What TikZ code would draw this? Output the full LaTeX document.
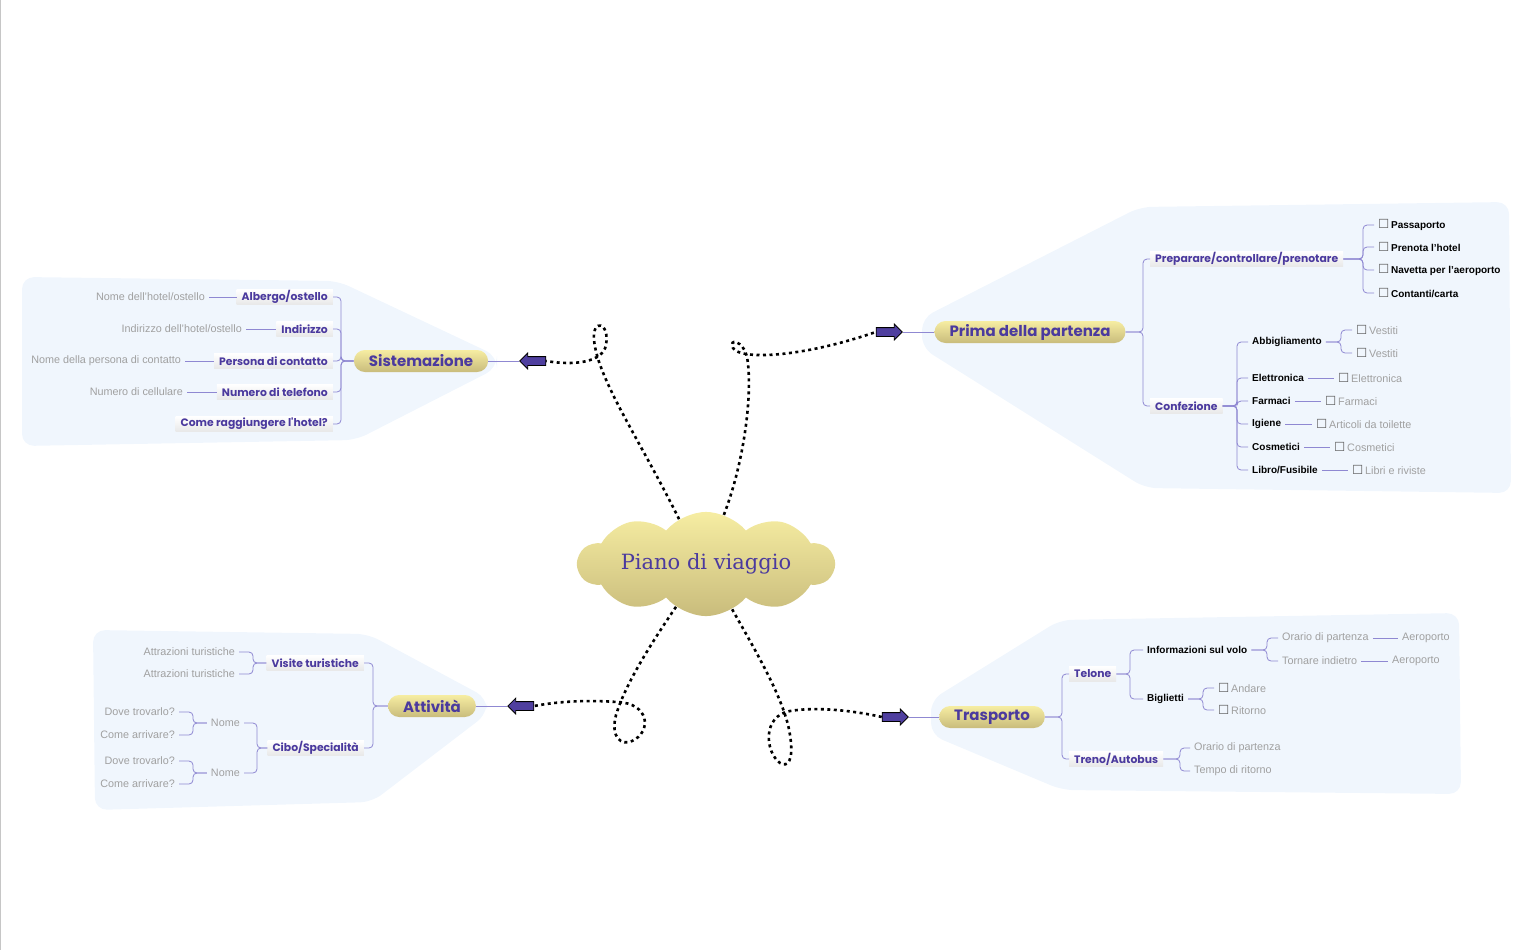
\documentclass[tikz,border=0pt]{standalone}
\usepackage{fontspec}
\setmainfont{Liberation Sans}
\newfontfamily\headfont{Poppins}
\newfontfamily\titlefont{DejaVu Serif}
\newfontfamily\symfont{DejaVu Sans}
\usetikzlibrary{shapes.symbols,shapes.arrows}

\definecolor{panelblue}{HTML}{F0F6FD}
\definecolor{headpurple}{HTML}{4B3A9E}
\definecolor{linkpurple}{HTML}{8F88D2}
\definecolor{leafgray}{HTML}{A0A0A0}
\definecolor{pilltop}{HTML}{F6EDA2}
\definecolor{pillbot}{HTML}{C9BC7C}
\definecolor{arrowpurple}{HTML}{4F3F9F}

\newcommand\chk{{\symfont\fontsize{12.5}{12}\selectfont\color{gray!75!black}\symbol{"2610}}\,}

\begin{document}
\begin{tikzpicture}[x=1pt,y=-1pt,
    mainbox/.style={rounded corners=11pt, top color=pilltop, bottom color=pillbot, minimum height=22pt,
        inner xsep=15pt, inner ysep=0pt, text=headpurple, font=\headfont\bfseries\fontsize{15}{15}\selectfont},
    subbox/.style={top color=white, bottom color=gray!18, minimum height=15pt, inner xsep=5pt, inner ysep=1pt,
        text=headpurple, font=\headfont\bfseries\fontsize{10.8}{11}\selectfont},
    item/.style={inner xsep=4pt, inner ysep=2pt, font=\bfseries\fontsize{10}{10}\selectfont},
    leaf/.style={inner xsep=4pt, inner ysep=2pt, text=leafgray, font=\fontsize{10.8}{11}\selectfont},
    conn/.style={draw=linkpurple, line width=0.8pt, rounded corners=4pt},
    dots/.style={line width=2.6pt, dash pattern=on 3pt off 3.5pt},
    blockarr/.style={single arrow, draw=black, fill=arrowpurple, minimum height=26pt,
        single arrow head extend=3.5pt, inner xsep=0pt, inner ysep=4pt, line width=0.8pt},
    panel/.style={fill=panelblue, rounded corners=12pt}]
    \useasboundingbox (0,0) rectangle (1536,950);
    \draw[gray!45] (0.5,0) -- (0.5,950);

    % panels
    \fill[panel] (22,277) -- (338,281) -- (497,356) -- (497,368) -- (356,440) -- (22,446) -- cycle;
    \fill[panel] (1140,207) -- (1509,202) -- (1511,493) -- (1145,488) -- (922,348) -- (922,318) -- cycle;
    \fill[panel] (93,630) -- (368,634) -- (487,698) -- (487,714) -- (372,802) -- (95,810) -- cycle;
    \fill[panel] (1060,620) -- (1459,613) -- (1461,794) -- (1062,790) -- (931,735) -- (931,700) -- cycle;

    % centro
    \node[cloud, cloud puffs=10, cloud puff arc=100, aspect=3.3, minimum width=256pt, minimum height=78pt,
        top color=pilltop, bottom color=pillbot, inner sep=0pt, text=headpurple,
        font=\titlefont\fontsize{21}{21}\selectfont] (plan) at (706,564) {Piano di viaggio};

    \node[blockarr, shape border rotate=180] (asis) at (535,361) {};
    \node[blockarr] (aprima) at (887,332) {};
    \node[blockarr, shape border rotate=180] (aatt) at (523,706) {};
    \node[blockarr] (atra) at (893,717) {};

    \draw[dots] (plan.121) .. controls (640,440) and (598,380) .. (594,340)
        .. controls (592,318) and (610,322) .. (606,345) .. controls (603,362) and (575,366) .. (asis.tail);
    \draw[dots] (plan.70) .. controls (745,460) and (753,390) .. (747,357)
        .. controls (743,340) and (728,338) .. (733,348) .. controls (740,360) and (800,358) .. (aprima.tail);
    \draw[dots] (plan.-125) .. controls (650,645) and (625,685) .. (616,715)
        .. controls (610,738) and (622,746) .. (632,741) .. controls (652,732) and (650,703) .. (617,702)
        .. controls (590,700) and (560,701) .. (aatt.tail);
    \draw[dots] (plan.-60) .. controls (755,650) and (785,700) .. (790,735)
        .. controls (794,760) and (788,768) .. (780,763) .. controls (765,752) and (762,716) .. (790,711)
        .. controls (820,706) and (860,712) .. (atra.tail);

    % Sistemazione
    \node[mainbox] (sis) at (421,361) {Sistemazione};
    \node[subbox, anchor=east] (alb) at (333,297) {Albergo/ostello};
    \node[subbox, anchor=east] (ind) at (333,329) {Indirizzo};
    \node[subbox, anchor=east] (per) at (333,361) {Persona di contatto};
    \node[subbox, anchor=east] (num) at (333,392) {Numero di telefono};
    \node[subbox, anchor=east] (come) at (333,424) {Come raggiungere l'hotel?};
    \node[leaf, anchor=east] (albn) at (209,297) {Nome dell'hotel/ostello};
    \node[leaf, anchor=east] (indn) at (246,329) {Indirizzo dell'hotel/ostello};
    \node[leaf, anchor=east] (pern) at (185,361) {Nome della persona di contatto};
    \node[leaf, anchor=east] (numn) at (187,392) {Numero di cellulare};
    \draw[conn] (asis.tip) -- (sis.east);
    \foreach \n in {alb,ind,per,num,come}
        \draw[conn] (\n.east) -- ++(8,0) |- (sis.west);
    \draw[conn] (albn) -- (alb);
    \draw[conn] (indn) -- (ind);
    \draw[conn] (pern) -- (per);
    \draw[conn] (numn) -- (num);

    % Prima della partenza
    \node[mainbox] (prima) at (1030,332) {Prima della partenza};
    \node[subbox, anchor=west] (prep) at (1150,259) {Preparare/controllare/prenotare};
    \node[subbox, anchor=west] (conf) at (1150,406) {Confezione};
    \draw[conn] (aprima.tip) -- (prima.west);
    \foreach \n in {prep,conf}
        \draw[conn] (\n.west) -- ++(-7,0) |- (prima.east);
    \node[item, anchor=west] (pass) at (1374,225) {\chk Passaporto};
    \node[item, anchor=west] (hotel) at (1374,247) {\chk Prenota l'hotel};
    \node[item, anchor=west] (nav) at (1374,270) {\chk Navetta per l'aeroporto};
    \node[item, anchor=west] (cont) at (1374,293) {\chk Contanti/carta};
    \foreach \n in {pass,hotel,nav,cont}
        \draw[conn] (\n.west) -- ++(-11,0) |- (prep.east);
    \node[item, anchor=west] (abb) at (1248,342) {Abbigliamento};
    \node[item, anchor=west] (elet) at (1248,378) {Elettronica};
    \node[item, anchor=west] (farm) at (1248,401) {Farmaci};
    \node[item, anchor=west] (ig) at (1248,424) {Igiene};
    \node[item, anchor=west] (cosm) at (1248,447) {Cosmetici};
    \node[item, anchor=west] (lib) at (1248,470) {Libro/Fusibile};
    \foreach \n in {abb,elet,farm,ig,cosm,lib}
        \draw[conn] (\n.west) -- ++(-11,0) |- (conf.east);
    \node[leaf, anchor=west] (vest1) at (1352,330) {\chk Vestiti};
    \node[leaf, anchor=west] (vest2) at (1352,353) {\chk Vestiti};
    \foreach \n in {vest1,vest2}
        \draw[conn] (\n.west) -- ++(-11,0) |- (abb.east);
    \node[leaf, anchor=west] (eletc) at (1334,378) {\chk Elettronica};
    \node[leaf, anchor=west] (farmc) at (1321,401) {\chk Farmaci};
    \node[leaf, anchor=west] (igc) at (1312,424) {\chk Articoli da toilette};
    \node[leaf, anchor=west] (cosmc) at (1330,447) {\chk Cosmetici};
    \node[leaf, anchor=west] (libc) at (1348,470) {\chk Libri e riviste};
    \draw[conn] (elet) -- (eletc);
    \draw[conn] (farm) -- (farmc);
    \draw[conn] (ig) -- (igc);
    \draw[conn] (cosm) -- (cosmc);
    \draw[conn] (lib) -- (libc);

    % Attivita
    \node[mainbox] (att) at (432,706) {Attività};
    \node[subbox, anchor=east] (vis) at (364,663) {Visite turistiche};
    \node[subbox, anchor=east] (cibo) at (364,748) {Cibo/Specialità};
    \draw[conn] (aatt.tip) -- (att.east);
    \foreach \n in {vis,cibo}
        \draw[conn] (\n.east) -- ++(9,0) |- (att.west);
    \node[leaf, anchor=east] (attr1) at (239,652) {Attrazioni turistiche};
    \node[leaf, anchor=east] (attr2) at (239,674) {Attrazioni turistiche};
    \foreach \n in {attr1,attr2}
        \draw[conn] (\n.east) -- ++(14,0) |- (vis.west);
    \node[leaf, anchor=east] (nome1) at (244,723) {Nome};
    \node[leaf, anchor=east] (nome2) at (244,773) {Nome};
    \foreach \n in {nome1,nome2}
        \draw[conn] (\n.east) -- ++(13,0) |- (cibo.west);
    \node[leaf, anchor=east] (dove1) at (179,712) {Dove trovarlo?};
    \node[leaf, anchor=east] (arr1) at (179,735) {Come arrivare?};
    \node[leaf, anchor=east] (dove2) at (179,761) {Dove trovarlo?};
    \node[leaf, anchor=east] (arr2) at (179,784) {Come arrivare?};
    \foreach \n in {dove1,arr1}
        \draw[conn] (\n.east) -- ++(14,0) |- (nome1.west);
    \foreach \n in {dove2,arr2}
        \draw[conn] (\n.east) -- ++(14,0) |- (nome2.west);

    % Trasporto
    \node[mainbox] (tra) at (992,717) {Trasporto};
    \node[subbox, anchor=west] (tel) at (1069,674) {Telone};
    \node[subbox, anchor=west] (treno) at (1069,759) {Treno/Autobus};
    \draw[conn] (atra.tip) -- (tra.west);
    \foreach \n in {tel,treno}
        \draw[conn] (\n.west) -- ++(-7,0) |- (tra.east);
    \node[item, anchor=west] (info) at (1143,650) {Informazioni sul volo};
    \node[item, anchor=west] (big) at (1143,699) {Biglietti};
    \foreach \n in {info,big}
        \draw[conn] (\n.west) -- ++(-13,0) |- (tel.east);
    \node[leaf, anchor=west] (ora1) at (1278,638) {Orario di partenza};
    \node[leaf, anchor=west] (torn) at (1278,661) {Tornare indietro};
    \foreach \n in {ora1,torn}
        \draw[conn] (\n.west) -- ++(-11,0) |- (info.east);
    \node[leaf, anchor=west] (aero1) at (1398,638) {Aeroporto};
    \node[leaf, anchor=west] (aero2) at (1388,661) {Aeroporto};
    \draw[conn] (ora1) -- (aero1);
    \draw[conn] (torn) -- (aero2);
    \node[leaf, anchor=west] (and) at (1214,688) {\chk Andare};
    \node[leaf, anchor=west] (rit) at (1214,710) {\chk Ritorno};
    \foreach \n in {and,rit}
        \draw[conn] (\n.west) -- ++(-11,0) |- (big.east);
    \node[leaf, anchor=west] (ora2) at (1190,748) {Orario di partenza};
    \node[leaf, anchor=west] (tempo) at (1190,771) {Tempo di ritorno};
    \foreach \n in {ora2,tempo}
        \draw[conn] (\n.west) -- ++(-10,0) |- (treno.east);
\end{tikzpicture}
\end{document}
